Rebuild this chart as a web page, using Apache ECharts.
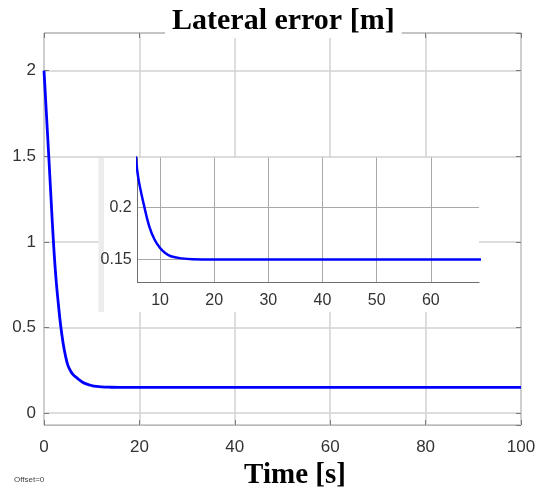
<!DOCTYPE html>
<html>
<head>
<meta charset="utf-8">
<script src="https://cdn.jsdelivr.net/npm/echarts@6/dist/echarts.min.js"></script>
<style>
  html, body { margin: 0; padding: 0; background: #fff; }
  #main { width: 539px; height: 495px; }
</style>
</head>
<body>
<div id="main"></div>
<script>
// lateral error step response
var timeS = [0, 0.5, 1, 1.5, 2, 2.5, 3, 3.5, 4, 4.5, 5, 5.5, 6, 7, 8, 9, 10, 11, 12, 14, 16, 20, 100];
var lateralErr = [2.0, 1.75, 1.5, 1.24, 0.99, 0.79, 0.64, 0.51, 0.41, 0.335, 0.28, 0.25, 0.228, 0.203, 0.182, 0.169, 0.161, 0.156, 0.153, 0.151, 0.1502, 0.15, 0.15];

// axis ranges
var mainX = [0, 100];
var mainY = [-0.07, 2.22];
var zoomX = [5.87, 68.9];
var zoomY = [0.1275, 0.2484];

var points = timeS.map(function(t, i) { return [t, lateralErr[i]]; });

var chart = echarts.init(document.getElementById('main'), null, { renderer: 'canvas' });

var sans = 'Liberation Sans';
var serif = 'Liberation Serif';
var tickCol = '#7a7a7a';

chart.setOption({
  backgroundColor: '#fff',
  animation: false,
  title: {
    text: 'Lateral error [m]',
    left: 165,
    top: 4,
    padding: [2, 7, 2, 7],
    backgroundColor: '#fff',
    textStyle: { fontFamily: serif, fontWeight: 'bold', fontSize: 30, color: '#000' }
  },
  grid: [{
    left: 44, top: 33, width: 477, height: 395,
    show: true, borderColor: '#8a8a8a', borderWidth: 1, backgroundColor: 'transparent'
  }, {
    left: 137.7, top: 157.5, width: 341.3, height: 125.2
  }],
  graphic: [{
    type: 'rect', z: 3,
    shape: { x: 104, y: 158, width: 375, height: 154 },
    style: { fill: '#fff' }
  }, {
    type: 'rect', z: 3,
    shape: { x: 98.5, y: 158, width: 5.5, height: 154 },
    style: { fill: '#ececec' }
  }, {
    type: 'text', z: 3, left: 14, top: 476,
    style: { text: 'Offset=0', fontFamily: sans, fontSize: 8, fill: '#444' }
  }],
  xAxis: [{
    type: 'value', gridIndex: 0, min: mainX[0], max: mainX[1], interval: 20,
    axisLine: { show: false, onZero: false },
    axisTick: { show: true, inside: true, length: 5, lineStyle: { color: tickCol } },
    axisLabel: { fontFamily: sans, fontSize: 17, color: '#333', margin: 14 },
    splitLine: { show: true, lineStyle: { color: '#d2d2d2', width: 1.5 } },
    name: 'Time [s]', nameLocation: 'middle', nameGap: 30,
    nameTextStyle: { fontFamily: serif, fontWeight: 'bold', fontSize: 29, color: '#000', padding: [0, 0, 0, 25] }
  }, {
    type: 'value', gridIndex: 0, position: 'top', min: mainX[0], max: mainX[1], interval: 20,
    axisLine: { show: false, onZero: false },
    axisTick: { show: true, inside: true, length: 5, lineStyle: { color: tickCol } },
    axisLabel: { show: false },
    splitLine: { show: false }
  }, {
    type: 'value', gridIndex: 1, min: zoomX[0], max: zoomX[1], minInterval: 10, maxInterval: 10, z: 4,
    axisLine: { show: true, onZero: false, lineStyle: { color: '#6e6e6e', width: 1 } },
    axisTick: { show: false },
    axisLabel: { fontFamily: sans, fontSize: 16, color: '#333', margin: 10, showMinLabel: false, showMaxLabel: false },
    splitLine: { show: true, showMinLine: false, showMaxLine: false, lineStyle: { color: '#a8a8a8', width: 1 } }
  }],
  yAxis: [{
    type: 'value', gridIndex: 0, min: mainY[0], max: mainY[1], minInterval: 0.5, maxInterval: 0.5,
    axisLine: { show: false, onZero: false },
    axisTick: { show: true, inside: true, length: 5, lineStyle: { color: tickCol } },
    axisLabel: { fontFamily: sans, fontSize: 17, color: '#333', margin: 8, showMinLabel: false, showMaxLabel: false },
    splitLine: { show: true, showMinLine: false, showMaxLine: false, lineStyle: { color: '#d2d2d2', width: 1.5 } }
  }, {
    type: 'value', gridIndex: 0, position: 'right', min: mainY[0], max: mainY[1], minInterval: 0.5, maxInterval: 0.5,
    axisLine: { show: false, onZero: false },
    axisTick: { show: true, inside: true, length: 5, lineStyle: { color: tickCol } },
    axisLabel: { show: false },
    splitLine: { show: false }
  }, {
    type: 'value', gridIndex: 1, min: zoomY[0], max: zoomY[1], minInterval: 0.05, maxInterval: 0.05, z: 4,
    axisLine: { show: true, onZero: false, lineStyle: { color: '#6e6e6e', width: 1 } },
    axisTick: { show: false },
    axisLabel: { fontFamily: sans, fontSize: 16, color: '#333', margin: 6, showMinLabel: false, showMaxLabel: false },
    splitLine: { show: true, showMinLine: false, showMaxLine: false, lineStyle: { color: '#a8a8a8', width: 1 } }
  }],
  series: [{
    name: 'lateral error',
    type: 'line',
    xAxisIndex: 0, yAxisIndex: 0,
    data: points,
    showSymbol: false,
    smooth: 0.4,
    lineStyle: { color: '#0000ff', width: 2.8 },
    z: 2
  }, {
    name: 'lateral error (zoom)',
    type: 'line',
    xAxisIndex: 2, yAxisIndex: 2,
    data: points,
    showSymbol: false,
    smooth: 0.4,
    clip: true,
    lineStyle: { color: '#0000ff', width: 2.5 },
    z: 5
  }]
});
</script>
</body>
</html>
